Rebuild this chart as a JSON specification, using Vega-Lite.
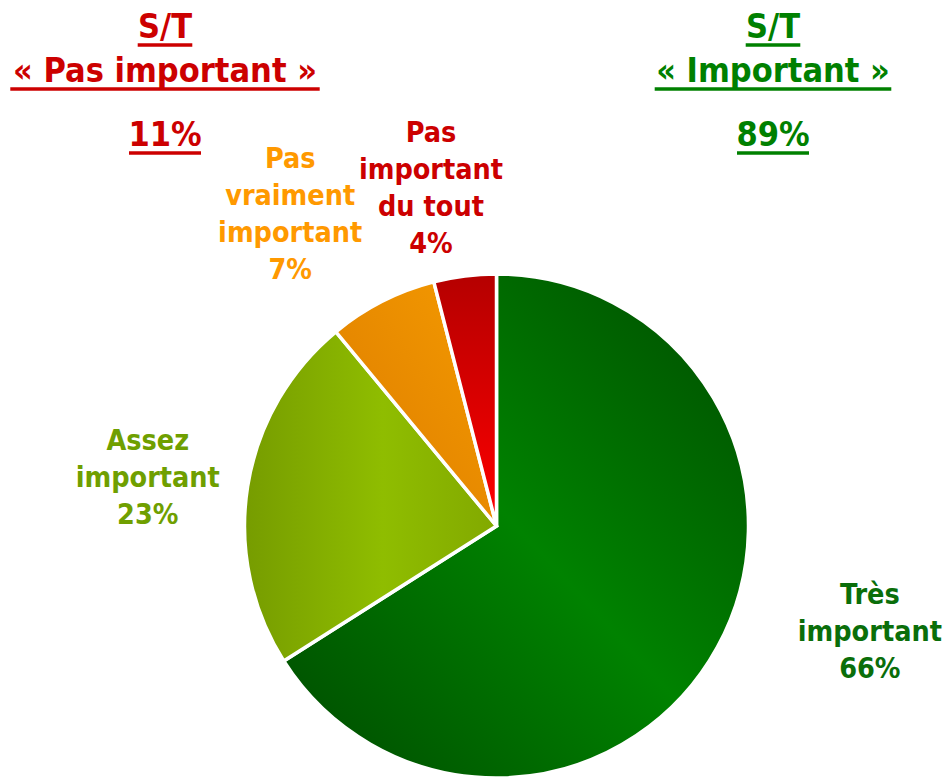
{
  "$schema": "https://vega.github.io/schema/vega-lite/v6.json",
  "width": 905,
  "height": 502,
  "autosize": "none",
  "padding": {"left": 44, "top": 275, "right": 0, "bottom": 0},
  "background": "white",
  "config": {"view": {"stroke": null}},
  "datasets": {
    "parts": [
      {"categorie": "Très important", "libelle": "Très\nimportant\n66%", "valeur": 66, "rang": 1},
      {"categorie": "Assez important", "libelle": "Assez\nimportant\n23%", "valeur": 23, "rang": 2},
      {"categorie": "Pas vraiment important", "libelle": "Pas\nvraiment\nimportant\n7%", "valeur": 7, "rang": 3},
      {"categorie": "Pas important du tout", "libelle": "Pas\nimportant\ndu tout\n4%", "valeur": 4, "rang": 4}
    ],
    "entetes": [
      {"groupe": "Pas important", "ligne": 1, "texte": "S/T"},
      {"groupe": "Pas important", "ligne": 2, "texte": "« Pas important »"},
      {"groupe": "Pas important", "ligne": 3, "texte": "11%"},
      {"groupe": "Important", "ligne": 1, "texte": "S/T"},
      {"groupe": "Important", "ligne": 2, "texte": "« Important »"},
      {"groupe": "Important", "ligne": 3, "texte": "89%"}
    ]
  },
  "layer": [
    {
      "data": {"name": "parts"},
      "transform": [
        {"stack": "valeur", "groupby": [], "sort": [{"field": "rang"}], "as": ["debut", "fin"]},
        {"filter": "datum.rang === 1"}
      ],
      "mark": {"type": "arc", "outerRadius": 252, "stroke": "white", "strokeWidth": 3.5,
        "fill": {"gradient": "linear", "x1": 1, "y1": 0, "x2": 0, "y2": 1,
          "stops": [{"offset": 0, "color": "#004c00"}, {"offset": 0.5, "color": "#008200"}, {"offset": 1, "color": "#004a00"}]}},
      "encoding": {
        "theta": {"field": "debut", "type": "quantitative", "scale": {"domain": [0, 100]}},
        "theta2": {"field": "fin"}
      }
    },
    {
      "data": {"name": "parts"},
      "transform": [
        {"stack": "valeur", "groupby": [], "sort": [{"field": "rang"}], "as": ["debut", "fin"]},
        {"filter": "datum.rang === 2"}
      ],
      "mark": {"type": "arc", "outerRadius": 252, "stroke": "white", "strokeWidth": 3.5,
        "fill": {"gradient": "linear", "x1": 0, "y1": 0.5, "x2": 1, "y2": 0.5,
          "stops": [{"offset": 0, "color": "#769c00"}, {"offset": 0.55, "color": "#8fbd00"}, {"offset": 1, "color": "#82a900"}]}},
      "encoding": {
        "theta": {"field": "debut", "type": "quantitative", "scale": {"domain": [0, 100]}},
        "theta2": {"field": "fin"}
      }
    },
    {
      "data": {"name": "parts"},
      "transform": [
        {"stack": "valeur", "groupby": [], "sort": [{"field": "rang"}], "as": ["debut", "fin"]},
        {"filter": "datum.rang === 3"}
      ],
      "mark": {"type": "arc", "outerRadius": 252, "stroke": "white", "strokeWidth": 3.5,
        "fill": {"gradient": "linear", "x1": 1, "y1": 0, "x2": 0, "y2": 1,
          "stops": [{"offset": 0, "color": "#f59b00"}, {"offset": 1, "color": "#dc7b00"}]}},
      "encoding": {
        "theta": {"field": "debut", "type": "quantitative", "scale": {"domain": [0, 100]}},
        "theta2": {"field": "fin"}
      }
    },
    {
      "data": {"name": "parts"},
      "transform": [
        {"stack": "valeur", "groupby": [], "sort": [{"field": "rang"}], "as": ["debut", "fin"]},
        {"filter": "datum.rang === 4"}
      ],
      "mark": {"type": "arc", "outerRadius": 252, "stroke": "white", "strokeWidth": 3.5,
        "fill": {"gradient": "linear", "x1": 0, "y1": 0, "x2": 0, "y2": 1,
          "stops": [{"offset": 0, "color": "#b50000"}, {"offset": 1, "color": "#ff0000"}]}},
      "encoding": {
        "theta": {"field": "debut", "type": "quantitative", "scale": {"domain": [0, 100]}},
        "theta2": {"field": "fin"}
      }
    },
    {
      "data": {"name": "parts"},
      "mark": {"type": "text", "font": "DejaVu Sans Condensed", "fontWeight": "bold", "fontSize": 28.5,
        "lineBreak": "\n", "lineHeight": 37, "align": "center", "baseline": "middle",
        "dy": {"expr": "datum.rang <= 2 ? -37 : -55.5"},
        "radius": {"expr": "datum.rang === 1 ? 388 : datum.rang === 2 ? 352 : datum.rang === 3 ? 374 : 344"},
        "thetaOffset": {"expr": "datum.rang === 1 ? -0.227 : datum.rang === 2 ? -0.021 : datum.rang === 3 ? -0.113 : -0.066"}},
      "encoding": {
        "theta": {"field": "valeur", "type": "quantitative", "stack": true, "scale": {"domain": [0, 100]}},
        "order": {"field": "rang", "type": "quantitative"},
        "text": {"field": "libelle", "type": "nominal"},
        "color": {"field": "categorie", "type": "nominal", "legend": null,
          "scale": {"domain": ["Très important", "Assez important", "Pas vraiment important", "Pas important du tout", "Pas important", "Important"],
            "range": ["#0a6e0a", "#6f9f00", "#ff9900", "#cc0000", "#cc0000", "#008000"]}}
      }
    },
    {
      "data": {"name": "entetes"},
      "mark": {"type": "text", "font": "DejaVu Sans Condensed", "fontWeight": "bold", "fontSize": 34,
        "align": "center", "baseline": "alphabetic"},
      "encoding": {
        "x": {"field": "groupe", "type": "nominal", "axis": null, "scale": {"type": "point", "padding": 0, "domain": ["Pas important", "Important"], "range": [121, 729]}},
        "y": {"field": "ligne", "type": "quantitative", "axis": null, "scale": {"domain": [1, 2, 3], "range": [-237, -193, -129]}},
        "text": {"field": "texte", "type": "nominal"},
        "color": {"field": "groupe", "type": "nominal", "legend": null}
      }
    },
    {
      "data": {"name": "entetes"},
      "mark": {"type": "rule", "strokeWidth": 3.5, "yOffset": 7,
        "xOffset": {"expr": "indexof(datum.texte, '%') >= 0 ? -36 : -length(datum.texte) * 9.1"},
        "x2Offset": {"expr": "indexof(datum.texte, '%') >= 0 ? 36 : length(datum.texte) * 9.1"}},
      "encoding": {
        "x": {"field": "groupe", "type": "nominal", "axis": null, "scale": {"type": "point", "padding": 0, "domain": ["Pas important", "Important"], "range": [121, 729]}},
        "x2": {"field": "groupe"},
        "y": {"field": "ligne", "type": "quantitative", "axis": null, "scale": {"domain": [1, 2, 3], "range": [-237, -193, -129]}},
        "color": {"field": "groupe", "type": "nominal", "legend": null}
      }
    }
  ]
}
